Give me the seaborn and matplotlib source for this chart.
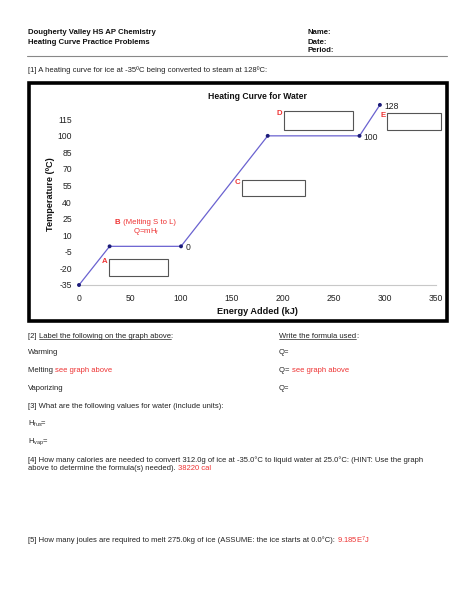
import matplotlib
matplotlib.use("Agg")
import matplotlib.pyplot as plt
import matplotlib.patches as patches
import seaborn as sns

# data
energy_kj = [0, 30, 100, 185, 275, 295]
temp_c = [-35, 0, 0, 100, 100, 128]
labeled_idx = [2, 4, 5]          # points that carry a value label
x_ticks = [0, 50, 100, 150, 200, 250, 300, 350]
y_ticks = [-35, -20, -5, 10, 25, 40, 55, 70, 85, 100, 115]

sns.set_theme(style="white")
plt.rcParams["font.family"] = ["Liberation Sans", "DejaVu Sans"]
plt.rcParams["mathtext.fontset"] = "custom"
plt.rcParams["mathtext.rm"] = "Liberation Sans"
plt.rcParams["mathtext.it"] = "Liberation Sans"
plt.rcParams["axes.unicode_minus"] = False

W, H = 474, 613
fig = plt.figure(figsize=(W / 100, H / 100), dpi=100)
RED = "#ee3333"
INK = "#222"
BODY = 5.5


def fx(px):
    return px / W


def fy(py):
    return 1 - py / H


def seq_text(x, y, parts, size=BODY, weight="normal"):
    # draw text pieces one after another on the same baseline
    r = fig.canvas.get_renderer()
    cur = fx(x)
    out = []
    for s, c in parts:
        t = fig.text(cur, fy(y), s, color=c, fontsize=size, weight=weight, va="center")
        bb = t.get_window_extent(renderer=r)
        cur = bb.x1 / W
        out.append(t)
    return out


def underline(t, y):
    r = fig.canvas.get_renderer()
    bb = t.get_window_extent(renderer=r)
    fig.add_artist(plt.Line2D([bb.x0 / W, bb.x1 / W], [fy(y), fy(y)], color=INK, lw=0.5))


# header
for i, s in enumerate(["Dougherty Valley HS AP Chemistry", "Heating Curve Practice Problems"]):
    fig.text(fx(28), fy(33 + 9 * i), s, fontsize=5.55, weight="bold", va="center", color="#111")
for i, s in enumerate(["Name:", "Date:", "Period:"]):
    fig.text(fx(307), fy(33 + 9 * i), s, fontsize=5.55, weight="bold", va="center", color="#111")
fig.add_artist(plt.Line2D([fx(27), fx(447)], [fy(56), fy(56)], color="#888", lw=0.8))
seq_text(28, 70, [("[1] A heating curve for ice at -35ºC being converted to steam at 128ºC:", INK)])

# chart frame
fig.add_artist(patches.Rectangle((fx(29), fy(321)), fx(447) - fx(29), fy(83) - fy(321),
                                 transform=fig.transFigure, fill=False, lw=2.6, ec="black"))

ax = fig.add_axes([fx(79), fy(285), fx(436) - fx(79), fy(102.7) - fy(285)])
sns.lineplot(x=energy_kj, y=temp_c, sort=False, color="#6a62d0", lw=0.9, ax=ax)
sns.scatterplot(x=energy_kj, y=temp_c, color="#1c1c7a", s=8, edgecolor="none", ax=ax, zorder=3)
for art in ax.lines + ax.collections:
    art.set_clip_on(False)
for i in labeled_idx:
    ax.annotate(f"{temp_c[i]}", (energy_kj[i], temp_c[i]), xytext=(3, -1), textcoords="offset points",
                fontsize=6.2, va="center", color=INK)

ax.set_xlim(0, 350)
ax.set_ylim(-35, 130)
ax.set_xticks(x_ticks)
ax.set_yticks(y_ticks)
ax.tick_params(axis="x", length=2.5, width=0.5, color="#bbb", direction="inout", labelsize=6.2, pad=5, labelcolor=INK)
ax.tick_params(axis="y", length=0, labelsize=6.2, pad=5, labelcolor=INK)
for s in ["top", "right", "left"]:
    ax.spines[s].set_visible(False)
ax.spines["bottom"].set_color("#c8c8c8")
ax.spines["bottom"].set_linewidth(0.8)
ax.set_xlabel("Energy Added (kJ)", fontsize=6.6, weight="bold", labelpad=3, color="#111")
ax.set_ylabel("Temperature (ºC)", fontsize=6.6, weight="bold", labelpad=2, color="#111")
ax.set_title("Heating Curve for Water", fontsize=6.2, weight="bold", pad=3, color="#111")

# answer boxes
boxes = {"A": (29.4, -26.9, 57.9, 15.4), "C": (160, 45.5, 61.6, 14.5),
         "D": (201, 105.3, 67.6, 17.2), "E": (302, 105.3, 53, 15.4)}
for k, (bx, by, bw, bh) in boxes.items():
    ax.add_patch(patches.Rectangle((bx, by), bw, bh, fill=False, ec="#555", lw=0.8, clip_on=False))
    ax.text(bx - 1.5, by + bh - 2.5, k, color=RED, fontsize=5.6, weight="bold", ha="right", va="center")
ax.text(40.5, 22, "B", color=RED, fontsize=5.6, weight="bold", ha="right", va="center")
ax.text(41, 22, " (Melting S to L)", color=RED, fontsize=5.6, ha="left", va="center")
ax.text(65.7, 13.5, "Q=mH$_f$", color=RED, fontsize=5.6, ha="center", va="center")

# questions
t1 = seq_text(28, 336, [("[2] ", INK), ("Label the following on the graph above", INK), (":", INK)])
underline(t1[1], 339)
t2 = seq_text(279, 336, [("Write the formula used", INK), (":", INK)])
underline(t2[0], 339)
seq_text(28, 353, [("Warming", INK)])
seq_text(28, 371, [("Melting ", INK), ("see graph above", RED)])
seq_text(28, 389, [("Vaporizing", INK)])
seq_text(279, 353, [("Q=", INK)])
seq_text(279, 371, [("Q= ", INK), ("see graph above", RED)])
seq_text(279, 389, [("Q=", INK)])
seq_text(28, 407, [("[3] What are the following values for water (include units):", INK)])
seq_text(28, 424, [("H$_{fus}$=", INK)])
seq_text(28, 442, [("H$_{vap}$=", INK)])
seq_text(28, 460, [("[4] How many calories are needed to convert 312.0g of ice at -35.0°C to liquid water at 25.0°C: (HINT: Use the graph", INK)])
seq_text(28, 469, [("above to determine the formula(s) needed). ", INK), ("38220 cal", RED)])
seq_text(28, 540, [("[5] How many joules are required to melt 275.0kg of ice (ASSUME: the ice starts at 0.0°C): ", INK),
                   ("9.185E$^7$J", RED)])

fig.savefig("out.png", dpi=100)
